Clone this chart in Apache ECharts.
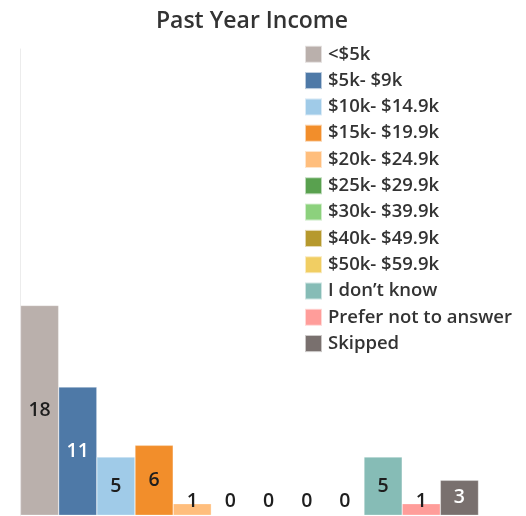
<!DOCTYPE html>
<html><head><meta charset="utf-8">
<script src="https://cdn.jsdelivr.net/npm/echarts@6/dist/echarts.min.js"></script>
<style>html,body{margin:0;padding:0;background:#fff}#c{width:526px;height:516px}</style>
</head><body><div id="c"></div>
<script>
const categories = ["<$5k","$5k- $9k","$10k- $14.9k","$15k- $19.9k","$20k- $24.9k","$25k- $29.9k","$30k- $39.9k","$40k- $49.9k","$50k- $59.9k","I don\u2019t know","Prefer not to answer","Skipped"];
const values = [18, 11, 5, 6, 1, 0, 0, 0, 0, 5, 1, 3];
const palette = ["#BAB0AC","#4E79A7","#A0CBE8","#F28E2B","#FFBE7D","#59A14F","#8CD17D","#B6992D","#F1CE63","#86BCB6","#FF9D9A","#79706E"];
const whiteLabels = ["$5k- $9k","Skipped"];

const FONT = "'Open Sans', 'Noto Sans', sans-serif";
const series = categories.map((name, i) => {
  const data = categories.map((c, j) => j === i ? values[i] : null);
  const small = values[i] <= 1;
  return {
    name: name,
    type: 'bar',
    stack: 'all',
    barWidth: '100%',
    data: data,
    itemStyle: { color: palette[i], borderColor: 'rgba(255,255,255,0.6)', borderWidth: 0.5 },
    label: {
      show: true,
      position: small ? 'insideBottom' : 'inside',
      distance: 4,
      color: whiteLabels.includes(name) ? '#ffffff' : '#1e1e1e',
      fontSize: 19.5,
      fontWeight: 600,
      fontFamily: FONT
    }
  };
});

const chart = echarts.init(document.getElementById('c'));
chart.setOption({
  animation: false,
  title: {
    text: 'Past Year Income',
    left: 247, top: 5, textAlign: 'center',
    textStyle: { fontSize: 23, fontWeight: 600, color: '#333', fontFamily: FONT }
  },
  legend: {
    orient: 'vertical',
    left: 304, top: 44.8, padding: 0,
    itemWidth: 17, itemHeight: 17, itemGap: 7.3,
    icon: 'rect',
    data: categories,
    textStyle: { fontSize: 18.5, fontWeight: 600, color: '#333', fontFamily: FONT, padding: [0,0,0,1] }
  },
  grid: { left: 20.5, width: 458, top: 49, bottom: 0.7 },
  xAxis: {
    type: 'category', data: categories,
    axisLine: { show: false }, axisTick: { show: false }, axisLabel: { show: false }
  },
  yAxis: {
    type: 'value', min: 0, max: 40,
    axisLine: { show: true, lineStyle: { color: '#ececec' } },
    axisTick: { show: false }, axisLabel: { show: false }, splitLine: { show: false }
  },
  series: series
});
</script></body></html>
